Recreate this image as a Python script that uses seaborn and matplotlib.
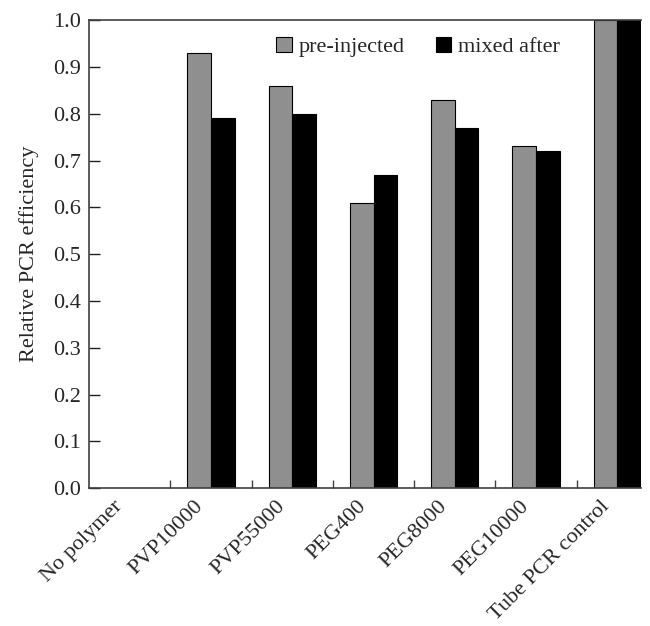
import pandas as pd
import matplotlib
matplotlib.use('Agg')
import matplotlib.pyplot as plt
import matplotlib.transforms as mtransforms
import seaborn as sns

categories = ['No polymer', 'PVP10000', 'PVP55000', 'PEG400', 'PEG8000', 'PEG10000', 'Tube PCR control']
pre_injected = [0.0, 0.93, 0.86, 0.61, 0.83, 0.73, 1.0]
mixed_after = [0.0, 0.79, 0.80, 0.67, 0.77, 0.72, 1.0]
series = ['pre-injected', 'mixed after']

df = pd.DataFrame({
    'condition': categories * 2,
    'efficiency': pre_injected + mixed_after,
    'series': [series[0]] * len(categories) + [series[1]] * len(categories),
})

sns.set_style('ticks')
plt.rcParams['font.family'] = ['Liberation Serif', 'DejaVu Serif']

fig = plt.figure(figsize=(6.5, 6.26), dpi=100)
ax = fig.add_axes([0.137, 0.220, 0.849, 0.748])

sns.barplot(data=df, x='condition', y='efficiency', hue='series',
            palette=['#8f8f8f', '#000000'], width=0.58, gap=0,
            edgecolor='black', linewidth=0.8, ax=ax)

ax.set_xlim(-0.5, 6.29)
ax.set_ylim(0, 1.0)
ax.set_yticks([i / 10 for i in range(11)])
ax.set_yticklabels([f'{i / 10:.1f}' for i in range(11)], fontsize=16)
ax.set_xticks(range(len(categories)))
ax.set_xticklabels(categories, rotation=45, ha='right', rotation_mode='anchor', fontsize=16)
ax.set_xticks([i + 0.5 for i in range(6)], minor=True)
ax.tick_params(axis='x', which='major', length=0, pad=9)
ax.tick_params(axis='x', which='minor', direction='in', length=6, width=1, color='#404040')
ax.tick_params(axis='y', direction='in', length=8, width=1, color='#202020', pad=6)
ax.set_xlabel('')
ax.set_ylabel('Relative PCR efficiency', fontsize=16, labelpad=10)

# nudge rotated labels left so they end just before the group centre
shift = mtransforms.ScaledTranslation(-0.17, 0.04, fig.dpi_scale_trans)
for lbl in ax.get_xticklabels():
    lbl.set_transform(lbl.get_transform() + shift)

for side in ['left', 'bottom', 'top']:
    ax.spines[side].set_visible(True)
    ax.spines[side].set_color('#404040')
    ax.spines[side].set_linewidth(1.2)
ax.spines['right'].set_visible(False)

ax.legend(loc='center', bbox_to_anchor=(0.596, 0.942), ncol=2, frameon=False,
          fontsize=16, handlelength=0.7, handleheight=0.7, handletextpad=0.3,
          columnspacing=1.4)

fig.savefig('out.png', dpi=100)
